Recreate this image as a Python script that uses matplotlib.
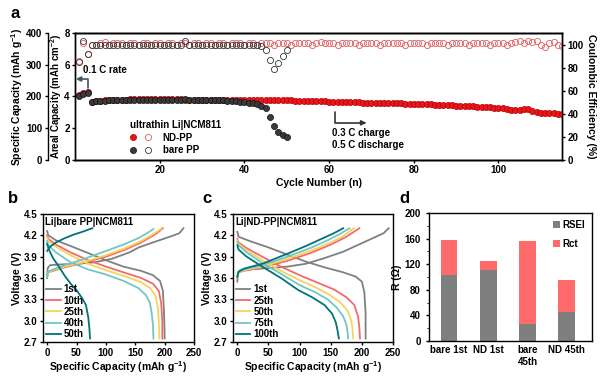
import numpy as np
import matplotlib
matplotlib.use("Agg")
import matplotlib.pyplot as plt
from matplotlib.legend_handler import HandlerTuple
from matplotlib.lines import Line2D

plt.rcParams['font.family'] = ['Liberation Sans', 'DejaVu Sans']
plt.rcParams['font.weight'] = 'bold'
plt.rcParams['axes.labelweight'] = 'bold'
plt.rcParams['mathtext.fontset'] = 'custom'
plt.rcParams['mathtext.rm'] = 'Liberation Sans'
plt.rcParams['mathtext.bf'] = 'Liberation Sans:bold'
plt.rcParams['mathtext.default'] = 'bf'
plt.rcParams['axes.linewidth'] = 1.0
plt.rcParams['xtick.major.width'] = 1.0
plt.rcParams['ytick.major.width'] = 1.0
plt.rcParams['xtick.major.size'] = 2.5
plt.rcParams['ytick.major.size'] = 2.5

# ---------------- panel a data ----------------
nd_cap = [205, 210, 215, 184, 186, 187, 188, 189, 189, 190,
          190, 190, 191, 191, 191, 191, 191, 191, 191, 191,
          191, 191, 191, 191, 191, 190, 190, 190, 190, 190,
          190, 190, 190, 190, 190, 190, 189, 189, 189, 189,
          189, 189, 189, 189, 189, 188, 188, 188, 188, 188,
          188, 187, 187, 187, 186, 186, 186, 185, 185, 184,
          184, 183, 183, 183, 182, 182, 182, 181, 181, 181,
          180, 180, 180, 179, 179, 178, 178, 177, 177, 176,
          176, 176, 175, 175, 174, 174, 173, 172, 172, 171,
          171, 170, 169, 169, 168, 167, 166, 166, 165, 164,
          163, 161, 158, 157, 157, 160, 161, 155, 150, 149,
          148, 148, 147, 146, 145]
nd_ce = [86, 101, 92, 100, 100, 101, 102, 100, 101, 101,
         101, 100, 101, 101, 100, 101, 101, 100, 101, 101,
         100, 101, 101, 100, 101, 101, 100, 101, 101, 100,
         101, 101, 100, 101, 101, 100, 101, 101, 101, 100,
         101, 101, 100, 101, 101, 101, 100, 101, 101, 101,
         100, 101, 101, 101, 101, 100, 101, 102, 101, 101,
         101, 100, 101, 101, 101, 101, 100, 101, 101, 101,
         101, 100, 101, 101, 101, 101, 101, 100, 101, 101,
         101, 101, 100, 101, 101, 101, 101, 100, 101, 101,
         101, 101, 100, 101, 101, 101, 101, 100, 101, 101,
         101, 100, 101, 102, 103, 101, 103, 102, 103, 100,
         98, 101, 102, 100, 99]
bare_cap = [202, 208, 212, 184, 185, 186, 187, 188, 189, 189,
            190, 190, 190, 190, 190, 190, 190, 190, 190, 190,
            190, 190, 190, 190, 190, 191, 190, 190, 190, 190,
            189, 189, 189, 188, 188, 187, 186, 185, 184, 182,
            180, 178, 175, 170, 164, 136, 107, 89, 79, 73]
bare_ce = [85, 103, 92, 100, 100, 100, 100, 100, 100, 100,
           100, 100, 100, 100, 100, 100, 100, 100, 100, 100,
           100, 100, 100, 100, 100, 103, 100, 100, 100, 100,
           100, 100, 100, 100, 100, 100, 100, 100, 100, 100,
           100, 100, 100, 99, 95, 87, 79, 84, 90, 95]

# ---------------- panel b data (Li|bare PP|NCM811) ----------------
b_labels = ['1st', '10th', '25th', '40th', '50th']
b_chg_cap = [[0, 1, 5, 20, 50, 80, 110, 140, 156, 180, 212, 225, 232],
             [0, 2, 10, 30, 60, 100, 130, 160, 185, 197],
             [0, 2, 10, 30, 60, 100, 130, 160, 183, 195],
             [0, 2, 10, 30, 60, 100, 130, 155, 172, 181],
             [0, 5, 15, 30, 45, 60, 70, 77]]
b_chg_v = [[3.60, 3.74, 3.78, 3.79, 3.80, 3.82, 3.87, 3.96, 4.03, 4.10, 4.19, 4.23, 4.30],
           [3.62, 3.68, 3.70, 3.75, 3.81, 3.90, 3.99, 4.10, 4.22, 4.30],
           [3.62, 3.68, 3.71, 3.76, 3.82, 3.92, 4.01, 4.12, 4.23, 4.30],
           [3.62, 3.69, 3.72, 3.78, 3.86, 3.98, 4.07, 4.16, 4.24, 4.29],
           [3.98, 4.04, 4.10, 4.16, 4.21, 4.25, 4.28, 4.30]]
b_dis_cap = [[0, 2, 15, 40, 70, 100, 130, 160, 180, 192, 197, 199, 200],
             [0, 2, 15, 40, 70, 100, 130, 160, 180, 190, 194, 196, 196],
             [0, 2, 15, 40, 70, 100, 130, 160, 175, 184, 188, 190, 191],
             [0, 2, 15, 40, 70, 100, 130, 155, 168, 175, 178, 180, 181],
             [0, 3, 10, 20, 30, 40, 50, 60, 66, 70, 72, 73]]
b_dis_v = [[4.26, 4.20, 4.13, 4.05, 3.95, 3.85, 3.76, 3.70, 3.64, 3.56, 3.42, 3.10, 2.75],
           [4.20, 4.15, 4.07, 3.96, 3.85, 3.76, 3.68, 3.60, 3.52, 3.42, 3.25, 3.00, 2.75],
           [4.17, 4.12, 4.04, 3.92, 3.80, 3.71, 3.63, 3.54, 3.46, 3.36, 3.20, 3.00, 2.75],
           [4.12, 4.06, 3.96, 3.82, 3.72, 3.65, 3.56, 3.46, 3.36, 3.25, 3.10, 2.95, 2.75],
           [4.08, 4.00, 3.88, 3.76, 3.63, 3.52, 3.43, 3.31, 3.22, 3.05, 2.88, 2.75]]

# ---------------- panel c data (Li|ND-PP|NCM811) ----------------
c_labels = ['1st', '25th', '50th', '75th', '100th']
c_chg_cap = [[0, 1, 5, 20, 50, 80, 110, 140, 170, 200, 220, 235, 243],
             [0, 2, 10, 40, 80, 120, 150, 175, 196],
             [0, 2, 10, 40, 80, 120, 150, 170, 187],
             [0, 2, 10, 40, 80, 120, 145, 165, 180],
             [0, 2, 10, 40, 80, 110, 135, 155, 170]]
c_chg_v = [[3.55, 3.68, 3.71, 3.72, 3.74, 3.76, 3.80, 3.88, 3.97, 4.09, 4.17, 4.23, 4.30],
           [3.62, 3.68, 3.70, 3.75, 3.84, 3.96, 4.07, 4.18, 4.30],
           [3.62, 3.68, 3.71, 3.76, 3.87, 3.99, 4.10, 4.19, 4.30],
           [3.62, 3.68, 3.72, 3.78, 3.90, 4.03, 4.13, 4.22, 4.30],
           [3.62, 3.69, 3.73, 3.80, 3.94, 4.05, 4.15, 4.23, 4.30]]
c_dis_cap = [[0, 2, 20, 50, 80, 110, 140, 170, 190, 200, 204, 206, 206],
             [0, 2, 15, 40, 70, 100, 130, 155, 175, 188, 194, 196, 197],
             [0, 2, 15, 40, 70, 100, 125, 145, 165, 177, 183, 185, 186],
             [0, 2, 15, 40, 70, 100, 125, 145, 160, 170, 175, 177, 178],
             [0, 2, 15, 40, 70, 98, 120, 140, 152, 158, 161, 163]]
c_dis_v = [[4.25, 4.18, 4.12, 4.03, 3.93, 3.83, 3.75, 3.68, 3.62, 3.55, 3.40, 3.10, 2.75],
           [4.15, 4.10, 4.02, 3.90, 3.76, 3.64, 3.53, 3.44, 3.33, 3.22, 3.05, 2.90, 2.75],
           [4.13, 4.08, 3.99, 3.85, 3.70, 3.57, 3.47, 3.38, 3.26, 3.14, 3.00, 2.88, 2.75],
           [4.11, 4.06, 3.96, 3.81, 3.66, 3.50, 3.40, 3.30, 3.18, 3.06, 2.95, 2.85, 2.75],
           [4.06, 4.00, 3.90, 3.76, 3.60, 3.43, 3.33, 3.22, 3.10, 2.98, 2.86, 2.75]]

curve_colors = ['#808080', '#f26b6b', '#f7d35c', '#72c6c6', '#007479']

# ---------------- panel d data ----------------
d_cats = ['bare 1st', 'ND 1st', 'bare\n45th', 'ND 45th']
r_sei = [103, 111, 27, 45]
r_ct = [55, 14, 130, 50]

fig = plt.figure(figsize=(6.0, 3.76), dpi=100)

# ================= panel a =================
ax = fig.add_axes([0.125, 0.5745, 0.8117, 0.3378])
ax.set_ylim(0, 8)
ax.set_yticks([0, 2, 4, 6, 8])
ax.set_xlim(0, 115)
ax.set_xticks([20, 40, 60, 80, 100])
ax.set_ylabel('Areal Capacity (mAh cm$^{-2}$)', fontsize=7, labelpad=0)
ax.set_xlabel('Cycle Number (n)', fontsize=7.5, labelpad=2)
ax.tick_params(labelsize=7, pad=1.2)

ax_cap = ax.twinx()
ax_cap.yaxis.set_ticks_position('left')
ax_cap.yaxis.set_label_position('left')
ax_cap.spines['left'].set_visible(True)
ax_cap.spines['left'].set_position(('outward', 19.5))
ax_cap.spines['right'].set_visible(False)
ax_cap.set_ylim(0, 400)
ax_cap.set_yticks([0, 100, 200, 300, 400])
ax_cap.set_ylabel('Specific Capacity (mAh g$^{-1}$)', fontsize=7.5, labelpad=1)
ax_cap.tick_params(labelsize=7, pad=1.5)

ax_ce = ax.twinx()
ax_ce.set_ylim(0, 110)
ax_ce.set_yticks([0, 20, 40, 60, 80, 100])
ax_ce.set_ylabel('Coulombic Efficiency (%)', fontsize=7.5, rotation=270, labelpad=9)
ax_ce.tick_params(labelsize=7, pad=1.5)

nd_x = np.arange(1, len(nd_cap) + 1)
bare_x = np.arange(1, len(bare_cap) + 1)
ms = 4.4
ax_cap.plot(nd_x, nd_cap, 'o', ms=ms, mfc='#e8161c', mec='#b00000', mew=0.5)
ax_cap.plot(bare_x, bare_cap, 'o', ms=ms, mfc='#3a3a3a', mec='#111111', mew=0.5)
ax_ce.plot(nd_x, nd_ce, 'o', ms=ms, mfc='none', mec='#e45a5a', mew=0.6)
ax_ce.plot(bare_x, bare_ce, 'o', ms=ms, mfc='none', mec='#333333', mew=0.6)

ax_cap.text(1.8, 283, '0.1 C rate', fontsize=7, va='center', ha='left')
ax_cap.annotate('', xy=(0.2, 255), xytext=(3.1, 227),
                arrowprops=dict(arrowstyle='-|>', color='#3d5566', lw=1.2,
                                mutation_scale=7, shrinkA=0, shrinkB=0,
                                connectionstyle='angle,angleA=90,angleB=0,rad=0'))
ax_cap.annotate('', xy=(68.8, 117), xytext=(61.3, 152),
                arrowprops=dict(arrowstyle='-|>', color='#333333', lw=1.2,
                                mutation_scale=7, shrinkA=0, shrinkB=0,
                                connectionstyle='angle,angleA=90,angleB=0,rad=0'))
ax_cap.text(60.8, 85, '0.3 C charge', fontsize=7, va='center', ha='left')
ax_cap.text(60.8, 47, '0.5 C discharge', fontsize=7, va='center', ha='left')

h_nd_f = Line2D([], [], ls='none', marker='o', ms=ms, mfc='#e8161c', mec='#b00000', mew=0.5)
h_nd_o = Line2D([], [], ls='none', marker='o', ms=ms, mfc='none', mec='#e45a5a', mew=0.6)
h_b_f = Line2D([], [], ls='none', marker='o', ms=ms, mfc='#3a3a3a', mec='#111111', mew=0.5)
h_b_o = Line2D([], [], ls='none', marker='o', ms=ms, mfc='none', mec='#333333', mew=0.6)
leg = ax_ce.legend([(h_nd_f, h_nd_o), (h_b_f, h_b_o)], ['ND-PP', 'bare PP'],
                   handler_map={tuple: HandlerTuple(ndivide=None, pad=0.8)},
                   title='ultrathin Li|NCM811', loc='upper left',
                   bbox_to_anchor=(0.1, 0.36), frameon=False, fontsize=7,
                   title_fontsize=7, handlelength=2.2, handletextpad=1.2,
                   labelspacing=0.25, borderpad=0.1)
leg.get_title().set_fontweight('bold')
leg._legend_box.align = 'left'

fig.text(0.018, 0.985, 'a', fontsize=12, fontweight='bold', va='top')


# ================= panels b, c =================
def voltage_panel(rect, title, labels, chg_cap, chg_v, dis_cap, dis_v):
    axp = fig.add_axes(rect)
    for i in range(len(labels)):
        axp.plot(chg_cap[i], chg_v[i], color=curve_colors[i], lw=1.3)
        axp.plot(dis_cap[i], dis_v[i], color=curve_colors[i], lw=1.3, label=labels[i])
    axp.set_xlim(-7, 250)
    axp.set_ylim(2.7, 4.5)
    axp.set_xticks([0, 50, 100, 150, 200, 250])
    axp.set_yticks([2.7, 3.0, 3.3, 3.6, 3.9, 4.2, 4.5])
    axp.set_yticklabels(['2.7', '3.0', '3.3', '3.6', '3.9', '4.2', '4.5'])
    axp.tick_params(labelsize=7, pad=1.5)
    axp.set_xlabel('Specific Capacity (mAh g$^{-1}$)', fontsize=7.5, labelpad=1)
    axp.set_ylabel('Voltage (V)', fontsize=7.5, labelpad=1)
    axp.text(0.015, 0.975, title, transform=axp.transAxes, fontsize=7,
             va='top', ha='left')
    axp.legend(loc='lower left', frameon=False, fontsize=7, handlelength=1.5,
               handletextpad=0.3, labelspacing=0.12, borderpad=0.1,
               borderaxespad=0.2)
    return axp


ax_b = voltage_panel([0.0717, 0.0904, 0.2517, 0.3404], 'Li|bare PP|NCM811',
                     b_labels, b_chg_cap, b_chg_v, b_dis_cap, b_dis_v)
ax_c = voltage_panel([0.3883, 0.0904, 0.2667, 0.3404], 'Li|ND-PP|NCM811',
                     c_labels, c_chg_cap, c_chg_v, c_dis_cap, c_dis_v)
fig.text(0.013, 0.492, 'b', fontsize=12, fontweight='bold', va='top')
fig.text(0.337, 0.492, 'c', fontsize=12, fontweight='bold', va='top')

# ================= panel d =================
ax_d = fig.add_axes([0.715, 0.0931, 0.2717, 0.3404])
xpos = np.arange(len(d_cats))
ax_d.bar(xpos, r_sei, width=0.43, color='#7f7f7f', label='RSEI')
ax_d.bar(xpos, r_ct, width=0.43, bottom=r_sei, color='#ff6b6b', label='Rct')
ax_d.set_xlim(-0.51, 3.64)
ax_d.set_ylim(0, 200)
ax_d.set_yticks([0, 40, 80, 120, 160, 200])
ax_d.set_yticks([20, 60, 100, 140, 180], minor=True)
ax_d.tick_params(axis='y', which='minor', length=1.5)
ax_d.set_xticks(xpos)
ax_d.set_xticklabels(d_cats)
ax_d.tick_params(axis='x', length=0, pad=3)
ax_d.tick_params(labelsize=7)
ax_d.set_ylabel('R (Ω)', fontsize=7.5, labelpad=2)
ax_d.legend(loc='upper right', frameon=False, fontsize=7, handlelength=0.7,
            handleheight=0.7, handletextpad=0.3, labelspacing=0.9,
            borderaxespad=0.3)
fig.text(0.665, 0.492, 'd', fontsize=12, fontweight='bold', va='top')

fig.savefig('out.png', dpi=100)
